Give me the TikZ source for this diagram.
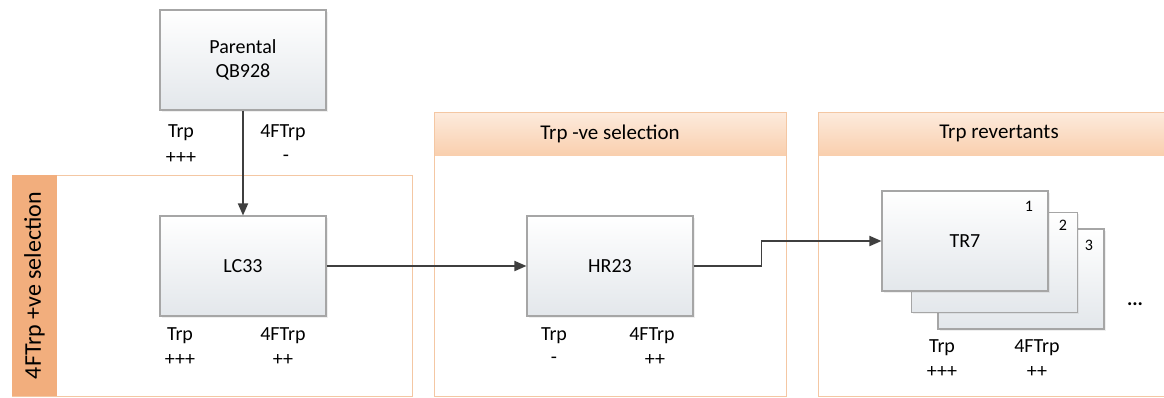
\documentclass[tikz,border=0pt]{standalone}
\usepackage{fontspec}
\setmainfont{Carlito}
\usetikzlibrary{shadows,arrows.meta}
\definecolor{strainline}{HTML}{A6A6A6}
\definecolor{strainbot}{HTML}{E3E7EB}
\definecolor{arrowgray}{HTML}{3F3F3F}
\definecolor{groupline}{HTML}{F4C7A3}
\definecolor{headtop}{HTML}{FDEBDD}
\definecolor{headbot}{HTML}{F9CFAE}
\definecolor{sidebar}{HTML}{F2AE7D}
\tikzset{
  strain/.style={draw=strainline,line width=1.1pt,top color=white,bottom color=strainbot,
    minimum width=166pt,minimum height=100pt,align=center,font=\fontsize{20}{24}\selectfont,
    drop shadow={opacity=0.12,shadow xshift=1.5pt,shadow yshift=-1.5pt}},
  grouphead/.style={top color=headtop,bottom color=headbot,minimum height=43pt,inner sep=0pt,
    font=\fontsize{21}{24}\selectfont},
  lbl/.style={font=\fontsize{20}{24}\selectfont,inner sep=0pt},
  num/.style={font=\fontsize{16}{19}\selectfont,inner sep=0pt},
  link/.style={draw=arrowgray,line width=1.8pt,-{Triangle[length=12pt,width=10pt]}}
}
\begin{document}
\begin{tikzpicture}[x=1pt,y=-1pt]
\path[use as bounding box,clip] (0,0) rectangle (1164,397);
\fill[white] (0,0) rectangle (1164,397);
% selection groups
\draw[groupline,line width=1pt] (12,175) rectangle (412,396);
\node[fill=sidebar,rotate=90,minimum width=221pt,minimum height=45pt,inner sep=0pt,
  font=\fontsize{24}{28}\selectfont] (posbar) at (34.5,285.5) {4FTrp +ve selection};
\node[grouphead,minimum width=352pt] (neghead) at (610,133.5) {Trp -ve selection};
\draw[groupline,line width=1pt] (434,112) rectangle (786,396);
\node[grouphead,minimum width=362pt] (revhead) at (999,133.5) {Trp revertants};
\draw[groupline,line width=1pt] (818,112) rectangle (1180,396);
% strains
\node[strain] (par) at (243,60) {Parental\\QB928};
\node[strain] (lc) at (243,266) {LC33};
\node[strain] (hr) at (610,266) {HR23};
\node[strain] (tr3) at (1021,279) {};
\node[strain] (tr2) at (994.5,262.5) {};
\node[strain] (tr) at (965,241) {TR7};
\node[num] (n1) at (1029,206) {1};
\node[num] (n2) at (1063,225) {2};
\node[num] (n3) at (1089,245) {3};
\node[lbl] (more) at (1135,304) {\textbf{...}};
% growth labels
\node[lbl] (parA) at (181,133) {Trp};
\node[lbl] (parB) at (181,158) {+++};
\node[lbl] (parC) at (283,133) {4FTrp};
\node[lbl] (parD) at (286,158) {-};
\node[lbl] (lcA) at (180,336) {Trp};
\node[lbl] (lcB) at (180,360) {+++};
\node[lbl] (lcC) at (283,336) {4FTrp};
\node[lbl] (lcD) at (283,360) {++};
\node[lbl] (hrA) at (554,336) {Trp};
\node[lbl] (hrB) at (554,360) {-};
\node[lbl] (hrC) at (652,336) {4FTrp};
\node[lbl] (hrD) at (655,360) {++};
\node[lbl] (trA) at (942,348) {Trp};
\node[lbl] (trB) at (942,372) {+++};
\node[lbl] (trC) at (1037,348) {4FTrp};
\node[lbl] (trD) at (1037,372) {++};
% connectors
\draw[link] (par) -- (lc);
\draw[link] (lc) -- (hr);
\draw[link] (hr.east) -- ++(68,0) |- (tr.west);
\end{tikzpicture}
\end{document}
